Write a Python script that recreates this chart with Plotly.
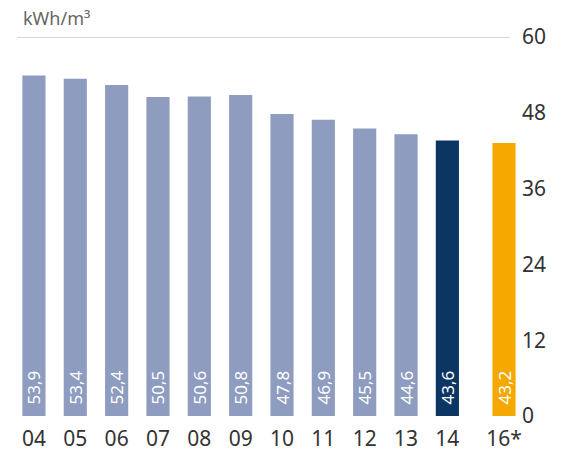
import plotly.graph_objects as go

categories = ["04", "05", "06", "07", "08", "09", "10", "11", "12", "13", "14", "16*"]
values = [53.9, 53.4, 52.4, 50.5, 50.6, 50.8, 47.8, 46.9, 45.5, 44.6, 43.6, 43.2]
value_labels = ["53,9", "53,4", "52,4", "50,5", "50,6", "50,8", "47,8", "46,9", "45,5", "44,6", "43,6", "43,2"]
y_ticks = [0, 12, 24, 36, 48, 60]
unit_label = "kWh/m³"

LIGHT = "#8d9cbf"
DARK = "#0b3563"
ORANGE = "#f5a800"

# positions: a gap before the forecast year
xpos = []
pos = 0.0
for i, c in enumerate(categories):
    if c.endswith("*"):
        pos += 0.37
    xpos.append(pos)
    pos += 1.0

colors = [LIGHT] * (len(categories) - 2) + [DARK, ORANGE]

fig = go.Figure(go.Bar(
    x=xpos, y=values, width=0.56,
    marker=dict(color=colors, line=dict(width=0)),
    text=["\u2002" + t for t in value_labels], textposition="inside", insidetextanchor="start",
    textangle=-90, insidetextfont=dict(color="white", size=17, family="Noto Sans"),
    constraintext="none",
    cliponaxis=False,
))

fig.update_layout(
    width=564, height=457,
    margin=dict(l=17, r=48, t=37, b=41),
    plot_bgcolor="white", paper_bgcolor="white",
    showlegend=False,
    font=dict(family="Noto Sans", color="#333333"),
)
fig.update_xaxes(
    range=[-0.41, xpos[-1] + 0.29],
    tickvals=xpos, ticktext=categories,
    tickfont=dict(size=21, color="#333333"),
    showgrid=False, zeroline=False, showline=False, ticks="",
    ticklabelstandoff=8, automargin=False,
)
fig.update_yaxes(
    range=[0, 60], side="right", tickvals=y_ticks,
    tickfont=dict(size=21, color="#333333"),
    showgrid=False, zeroline=False, showline=False, ticks="",
    ticklabelstandoff=5, automargin=False,
)
fig.add_shape(type="line", xref="paper", yref="y", x0=0, x1=0.988, y0=60, y1=60,
              line=dict(color="#c8c8c8", width=1.5))
fig.add_annotation(text=unit_label, xref="paper", yref="paper", x=0, y=1,
                   xanchor="left", yanchor="bottom", xshift=4, yshift=5,
                   showarrow=False, font=dict(size=18, color="#666666"))

fig.write_html("out.html")
